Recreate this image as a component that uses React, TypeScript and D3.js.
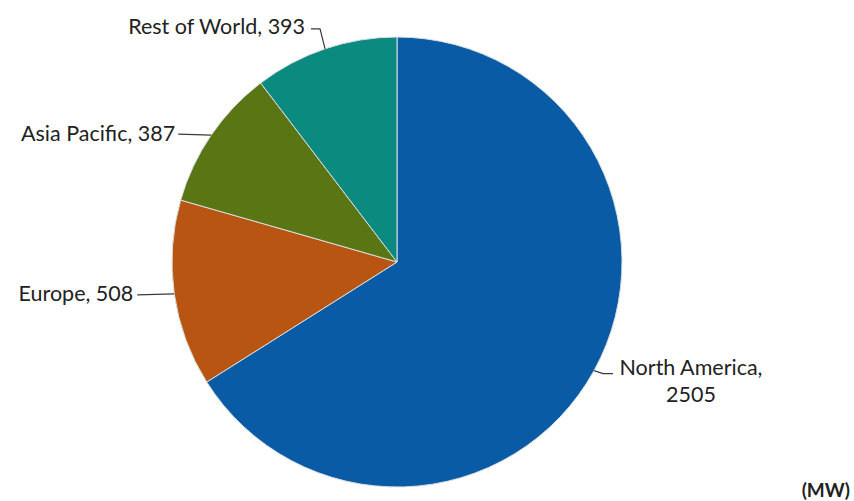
import React from "react";
import * as d3 from "d3";

const regions = ["North America", "Europe", "Asia Pacific", "Rest of World"];
const capacity = [2505, 508, 387, 393];
const colors = ["#0a5ba5", "#b95512", "#5a7513", "#0b8a80"];
const unitLabel = "(MW)";

const W = 854;
const H = 501;
const cx = 397;
const cy = 262;
const R = 225;
const FS = 21.5;

export default function App() {
  const data = regions.map((r, i) => ({ region: r, value: capacity[i], color: colors[i] }));
  const pie = d3.pie<any>().value((d) => d.value).sort(null);
  const arcs = pie(data);
  const arc = d3.arc<any>().innerRadius(0).outerRadius(R);

  const edge = (a: any) => {
    const m = (a.startAngle + a.endAngle) / 2;
    return [Math.sin(m) * R, -Math.cos(m) * R];
  };

  const leaders = [
    { d: [[9, 3], [19, 3]], tx: 97, ty: -3, anchor: "middle", lines: ["North America,", "2505"] },
    { d: [[-37, 1]], tx: -41, ty: 0, anchor: "end", lines: ["Europe, 508"] },
    { d: [[-33, -1]], tx: -36, ty: -2, anchor: "end", lines: ["Asia Pacific, 387"] },
    { d: [[-5, -20], [-14, -20]], tx: -20, ty: -22, anchor: "end", lines: ["Rest of World, 393"] },
  ];

  return (
    <svg width={W} height={H} style={{ position: "absolute", left: 0, top: 0, background: "#fff" }}>
      <g transform={`translate(${cx},${cy})`}>
        {arcs.map((a, i) => (
          <path key={i} d={arc(a) as string} fill={a.data.color} stroke="#d8dde0" strokeWidth={1} />
        ))}
        {arcs.map((a, i) => {
          const [ex, ey] = edge(a);
          const L = leaders[i];
          const pts = [[ex, ey], ...L.d.map(([dx, dy]) => [ex + dx, ey + dy])];
          const line = d3.line()(pts as any) as string;
          const lx = ex + L.tx;
          const ly = ey + L.ty;
          return (
            <g key={"l" + i}>
              <path d={line} fill="none" stroke="#3a3a3a" strokeWidth={1.2} />
              <text fontFamily="Lato, sans-serif" fontSize={FS} fill="#222" textAnchor={L.anchor as any}>
                {L.lines.map((t, j) => (
                  <tspan key={j} x={lx} y={ly + j * 27} dy="0.35em">{t}</tspan>
                ))}
              </text>
            </g>
          );
        })}
      </g>
      <text x={850} y={497} textAnchor="end" fontFamily="Lato, sans-serif" fontSize={19}
        fontWeight="bold" fill="#222">{unitLabel}</text>
    </svg>
  );
}
